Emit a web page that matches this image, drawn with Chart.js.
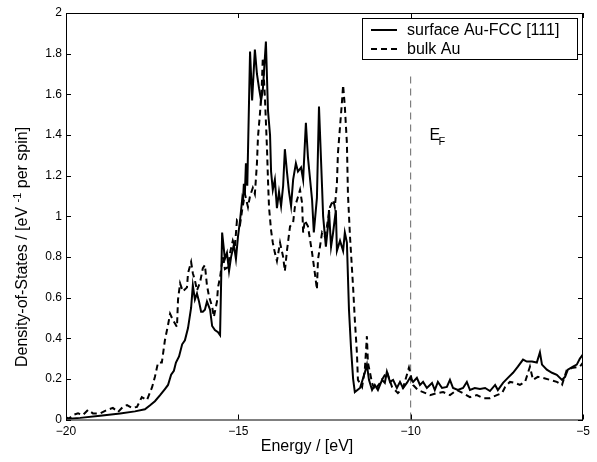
<!DOCTYPE html>
<html>
<head>
<meta charset="utf-8">
<script src="https://cdn.jsdelivr.net/npm/chart.js@4.4.1/dist/chart.umd.min.js"></script>
<style>
  html, body { margin:0; padding:0; background:#fff; }
  #wrap { width:597px; height:462px; position:relative; }
</style>
</head>
<body>
<div id="wrap"><canvas id="dos"></canvas></div>
<script>
// surface Au-FCC [111]
const surfE = [-20.00,-19.59,-19.01,-18.43,-18.00,-17.71,-17.56,-17.42,-17.27,-17.13,-17.04,-16.95,-16.87,-16.81,-16.72,-16.63,-16.55,-16.46,-16.37,-16.32,
  -16.26,-16.20,-16.14,-16.08,-16.03,-15.97,-15.91,-15.82,-15.76,-15.68,-15.59,-15.53,-15.47,-15.39,-15.33,-15.27,-15.21,-15.13,-15.07,-15.01,
  -14.95,-14.89,-14.87,-14.84,-14.81,-14.78,-14.74,-14.66,-14.60,-14.52,-14.46,-14.40,-14.34,-14.29,-14.20,-14.14,-14.08,-14.05,-14.00,-13.94,
  -13.88,-13.82,-13.76,-13.70,-13.65,-13.59,-13.53,-13.47,-13.41,-13.33,-13.27,-13.18,-13.12,-13.04,-12.98,-12.86,-12.81,-12.72,-12.66,-12.57,
  -12.54,-12.46,-12.40,-12.37,-12.31,-12.25,-12.17,-12.14,-12.05,-11.96,-11.91,-11.85,-11.79,-11.73,-11.67,-11.62,-11.47,-11.33,-11.27,-11.21,
  -11.12,-11.04,-10.95,-10.83,-10.75,-10.69,-10.60,-10.51,-10.40,-10.31,-10.22,-10.11,-10.02,-9.93,-9.82,-9.73,-9.64,-9.53,-9.38,-9.30,
  -9.21,-9.09,-8.95,-8.86,-8.77,-8.63,-8.48,-8.37,-8.28,-8.14,-7.99,-7.84,-7.70,-7.55,-7.47,-7.32,-7.18,-7.03,-6.89,-6.74,
  -6.63,-6.48,-6.34,-6.25,-6.19,-6.05,-5.90,-5.76,-5.61,-5.52,-5.44,-5.29,-5.18,-5.09,-5.00];
const surfDos = [0.003,0.008,0.018,0.03,0.04,0.05,0.07,0.09,0.12,0.15,0.17,0.22,0.24,0.28,0.31,0.37,0.39,0.45,0.55,0.66,
  0.59,0.62,0.58,0.53,0.53,0.54,0.58,0.54,0.46,0.44,0.43,0.415,0.92,0.79,0.82,0.73,0.80,0.86,0.79,0.90,
  0.98,1.08,1.06,1.16,1.11,1.26,1.15,1.81,1.57,1.82,1.70,1.63,1.57,1.62,1.86,1.52,1.40,1.22,1.13,1.18,
  1.04,1.12,1.05,1.15,1.33,1.22,1.12,1.05,1.18,1.26,1.22,1.24,1.18,1.46,1.29,1.08,0.92,1.09,1.54,1.14,
  1.00,0.85,0.95,1.03,0.85,0.92,1.03,0.83,0.88,0.83,0.92,0.87,0.54,0.35,0.20,0.135,0.155,0.23,0.27,0.195,
  0.145,0.17,0.145,0.195,0.18,0.235,0.185,0.195,0.155,0.185,0.155,0.18,0.205,0.185,0.205,0.17,0.185,0.155,0.18,0.145,
  0.185,0.155,0.16,0.195,0.155,0.145,0.155,0.185,0.145,0.155,0.15,0.155,0.14,0.17,0.145,0.18,0.205,0.23,0.26,0.295,
  0.285,0.285,0.28,0.33,0.27,0.245,0.23,0.22,0.195,0.21,0.245,0.26,0.27,0.30,0.32];

// bulk Au
const bulkE = [-20.00,-19.91,-19.80,-19.65,-19.51,-19.36,-19.22,-19.01,-18.81,-18.64,-18.49,-18.35,-18.23,-18.09,-17.94,-17.80,-17.65,-17.50,-17.42,-17.33,
  -17.22,-17.13,-17.04,-16.98,-16.90,-16.78,-16.75,-16.69,-16.61,-16.49,-16.46,-16.37,-16.32,-16.26,-16.20,-16.11,-16.03,-15.97,-15.91,-15.85,
  -15.76,-15.71,-15.62,-15.59,-15.53,-15.45,-15.39,-15.30,-15.24,-15.16,-15.10,-15.04,-14.95,-14.89,-14.81,-14.72,-14.66,-14.58,-14.52,-14.46,
  -14.43,-14.37,-14.32,-14.29,-14.23,-14.17,-14.14,-14.11,-14.05,-14.00,-13.94,-13.88,-13.79,-13.70,-13.65,-13.59,-13.50,-13.41,-13.36,-13.27,
  -13.21,-13.15,-13.12,-13.07,-12.98,-12.86,-12.78,-12.72,-12.69,-12.57,-12.49,-12.43,-12.34,-12.25,-12.20,-12.14,-12.11,-12.05,-11.99,-11.96,
  -11.91,-11.85,-11.82,-11.76,-11.67,-11.62,-11.56,-11.53,-11.41,-11.33,-11.27,-11.24,-11.12,-11.04,-10.89,-10.69,-10.54,-10.37,-10.22,-10.05,
  -9.93,-9.79,-9.64,-9.44,-9.24,-9.06,-8.86,-8.66,-8.48,-8.28,-8.08,-7.90,-7.70,-7.50,-7.35,-7.26,-7.12,-6.97,-6.83,-6.68,
  -6.54,-6.45,-6.31,-6.16,-5.96,-5.76,-5.61,-5.47,-5.29,-5.09,-5.00];
const bulkDos = [0.01,0.005,0.022,0.03,0.022,0.047,0.03,0.03,0.047,0.057,0.037,0.062,0.071,0.057,0.062,0.11,0.096,0.16,0.21,0.28,
  0.28,0.39,0.465,0.52,0.49,0.455,0.59,0.67,0.63,0.65,0.72,0.775,0.72,0.685,0.635,0.675,0.745,0.76,0.66,0.605,
  0.555,0.505,0.58,0.65,0.70,0.80,0.74,0.75,0.82,0.88,0.85,0.98,0.96,1.03,1.11,1.045,1.10,1.14,1.11,1.26,
  1.39,1.51,1.64,1.78,1.59,1.34,1.18,1.045,0.93,0.87,0.82,0.78,0.87,0.80,0.73,0.83,0.95,0.97,1.045,1.095,
  1.13,1.065,0.92,0.98,0.95,0.82,0.72,0.64,0.785,0.92,0.90,0.95,1.045,1.08,1.045,1.16,1.31,1.44,1.57,1.645,
  1.54,1.36,1.11,0.90,0.65,0.49,0.33,0.195,0.16,0.245,0.41,0.28,0.18,0.145,0.18,0.235,0.16,0.13,0.155,0.255,
  0.17,0.145,0.135,0.12,0.13,0.135,0.12,0.145,0.13,0.11,0.12,0.105,0.105,0.12,0.13,0.16,0.185,0.18,0.17,0.185,
  0.26,0.195,0.21,0.205,0.195,0.185,0.17,0.245,0.255,0.26,0.28];

const fermiE = -10;
const fermiTop = 1.71;
const xTicks = [-20, -15, -10, -5];
const yMax = 2;

const FONT = '"Liberation Sans", Arial, Helvetica, sans-serif';
const pts = (xs, ys) => xs.map((x, i) => ({x: x, y: ys[i]}));
const minus = v => v < 0 ? '\u2212' + Math.abs(v) : String(v);

const frame = {
  id: 'frame',
  afterDraw(chart) {
    const {ctx, chartArea: a, scales: {x, y}} = chart;
    ctx.save();
    ctx.strokeStyle = '#000';
    ctx.lineWidth = 1;
    ctx.strokeRect(a.left + 0.5, a.top + 0.5, a.right - a.left - 1, a.bottom - a.top);
    ctx.beginPath();
    x.ticks.forEach(t => {
      const px = Math.round(x.getPixelForValue(t.value)) + 0.5;
      ctx.moveTo(px, a.bottom); ctx.lineTo(px, a.bottom - 5);
      ctx.moveTo(px, a.top); ctx.lineTo(px, a.top + 5);
    });
    y.ticks.forEach(t => {
      const py = Math.round(y.getPixelForValue(t.value)) + 0.5;
      ctx.moveTo(a.left, py); ctx.lineTo(a.left + 5, py);
      ctx.moveTo(a.right, py); ctx.lineTo(a.right - 5, py);
    });
    ctx.stroke();

    // legend
    const lx = 362, ly = 18, lw = 215, lh = 41;
    ctx.fillStyle = '#fff';
    ctx.fillRect(lx, ly, lw, lh);
    ctx.strokeRect(lx + 0.5, ly + 0.5, lw, lh);
    const ds = chart.data.datasets;
    [0, 1].forEach((i, row) => {
      const cy = ly + 12 + row * 19;
      ctx.beginPath();
      ctx.lineWidth = 2;
      ctx.setLineDash(ds[i].borderDash || []);
      ctx.moveTo(371, cy); ctx.lineTo(397, cy);
      ctx.stroke();
      ctx.setLineDash([]);
      ctx.fillStyle = '#000';
      ctx.font = '16px ' + FONT;
      ctx.textBaseline = 'middle';
      ctx.textAlign = 'left';
      ctx.fillText(ds[i].label, 407, cy + 1);
    });

    // E_F label
    ctx.fillStyle = '#000';
    ctx.textBaseline = 'alphabetic';
    ctx.font = '16px ' + FONT;
    const ex = x.getPixelForValue(-9.45);
    ctx.fillText('E', ex, 140);
    ctx.font = '11px ' + FONT;
    ctx.fillText('F', ex + ctx.measureText('E').width + 1.5, 145);

    // axis titles
    ctx.font = '16px ' + FONT;
    ctx.textAlign = 'center';
    ctx.fillText('Energy / [eV]', 307, 451);

    ctx.translate(27, 367);
    ctx.rotate(-Math.PI / 2);
    ctx.textAlign = 'left';
    let cx = 0;
    const part1 = 'Density-of-States / [eV ';
    ctx.fillText(part1, cx, 0);
    cx += ctx.measureText(part1).width;
    ctx.font = '11px ' + FONT;
    ctx.fillText('-1', cx, -6);
    cx += ctx.measureText('-1').width;
    ctx.font = '16px ' + FONT;
    ctx.fillText(' per spin]', cx, 0);
    ctx.restore();
  }
};

new Chart(document.getElementById('dos'), {
  type: 'line',
  data: {
    datasets: [
      {label: 'surface Au-FCC [111]', data: pts(surfE, surfDos), borderColor: '#000', borderWidth: 2, pointRadius: 0, tension: 0, order: 2},
      {label: 'bulk Au', data: pts(bulkE, bulkDos), borderColor: '#000', borderWidth: 2, borderDash: [6, 4], pointRadius: 0, tension: 0, order: 1},
      {label: 'EF', data: [{x: fermiE, y: 0}, {x: fermiE, y: fermiTop}], borderColor: '#666', borderWidth: 1, borderDash: [7, 5], pointRadius: 0, order: 3}
    ]
  },
  options: {
    responsive: true,
    maintainAspectRatio: false,
    animation: false,
    events: [],
    layout: {padding: {top: 13, right: 14, left: 0, bottom: 0}},
    plugins: {legend: {display: false}, tooltip: {enabled: false}},
    scales: {
      x: {
        type: 'linear', min: xTicks[0], max: xTicks[xTicks.length - 1],
        afterBuildTicks: s => { s.ticks = xTicks.map(v => ({value: v})); },
        afterFit: s => { s.height = 42.5; },
        grid: {display: false, drawTicks: false},
        border: {display: false},
        ticks: {padding: 5, color: '#000', font: {family: FONT, size: 12}, callback: v => minus(v), maxRotation: 0}
      },
      y: {
        min: 0, max: yMax,
        afterFit: s => { s.width = 66; },
        grid: {display: false, drawTicks: false},
        border: {display: false},
        ticks: {stepSize: 0.2, padding: 4, color: '#000', font: {family: FONT, size: 12}, callback: v => String(+v.toFixed(1))}
      }
    }
  },
  plugins: [frame]
});
</script>
</body>
</html>
